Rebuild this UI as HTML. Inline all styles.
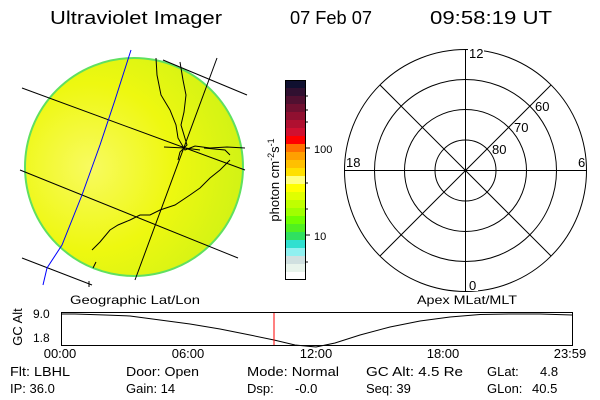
<!DOCTYPE html>
<html><head><style>
body{margin:0;background:#fff;}
svg{display:block;font-family:"Liberation Sans",sans-serif;}
</style></head><body>
<svg width="600" height="400" viewBox="0 0 600 400">
<defs>
<radialGradient id="g" cx="0.3" cy="0.5" r="0.85">
<stop offset="0" stop-color="#f8fa60"/>
<stop offset="0.45" stop-color="#eef810"/>
<stop offset="1" stop-color="#c4f018"/>
</radialGradient>
</defs>
<g font-size="18" fill="#000">
<text x="50" y="24" textLength="172" lengthAdjust="spacingAndGlyphs">Ultraviolet Imager</text>
<text x="290" y="24" textLength="82" lengthAdjust="spacingAndGlyphs">07 Feb 07</text>
<text x="430" y="24" textLength="122" lengthAdjust="spacingAndGlyphs">09:58:19 UT</text>
</g>
<circle cx="134" cy="167" r="109" fill="url(#g)" stroke="#60e060" stroke-width="2"/>
<g fill="none" stroke="#000" stroke-width="1">
<line x1="22" y1="88" x2="245" y2="170"/>
<line x1="20" y1="170" x2="238" y2="258"/>
<line x1="163" y1="60" x2="247" y2="95"/>
<line x1="22" y1="258" x2="92" y2="285"/>
<line x1="217" y1="58" x2="135" y2="280"/>
<polyline points="156,58 157,75 161,95 170,110 176,125 178,138 185,150 195,146 210,148 227,147 245,148"/>
<polyline points="180,62 183,80 186,95 184,112 181,125 187,145 180,152 178,160"/>
<polyline points="164,147 185,148 200,150"/>
<polyline points="204,148 225,150 230,155"/>
<polyline points="230,160 220,170 210,178 200,188 190,195 175,205 160,210 150,215 140,215 130,220 118,225 110,230 100,242 92,250"/>
<polyline points="96,262 93,268"/>
<line x1="89" y1="281" x2="89" y2="287"/>
</g>
<polyline fill="none" stroke="#0000ff" stroke-width="1" points="131,50 115,100 100,145 82,195 62,245 47,268 43,285"/>
<g>
<rect x="285" y="80" width="21" height="8" fill="#101030"/>
<rect x="285" y="88" width="21" height="8" fill="#301030"/>
<rect x="285" y="96" width="21" height="8" fill="#501030"/>
<rect x="285" y="104" width="21" height="8" fill="#701030"/>
<rect x="285" y="112" width="21" height="8" fill="#901030"/>
<rect x="285" y="120" width="21" height="8" fill="#b01030"/>
<rect x="285" y="128" width="21" height="8" fill="#d01030"/>
<rect x="285" y="136" width="21" height="8" fill="#ff0000"/>
<rect x="285" y="144" width="21" height="8" fill="#ff7000"/>
<rect x="285" y="152" width="21" height="8" fill="#ffa000"/>
<rect x="285" y="160" width="21" height="8" fill="#ffc000"/>
<rect x="285" y="168" width="21" height="8" fill="#ffe000"/>
<rect x="285" y="176" width="21" height="8" fill="#ffff80"/>
<rect x="285" y="184" width="21" height="8" fill="#ffff00"/>
<rect x="285" y="192" width="21" height="8" fill="#e0ff00"/>
<rect x="285" y="200" width="21" height="8" fill="#c0ff00"/>
<rect x="285" y="208" width="21" height="8" fill="#a0ff00"/>
<rect x="285" y="216" width="21" height="8" fill="#70ff00"/>
<rect x="285" y="224" width="21" height="8" fill="#50f020"/>
<rect x="285" y="232" width="21" height="8" fill="#30e060"/>
<rect x="285" y="240" width="21" height="8" fill="#30e0d0"/>
<rect x="285" y="248" width="21" height="8" fill="#90f0f0"/>
<rect x="285" y="256" width="21" height="8" fill="#d0e0e0"/>
<rect x="285" y="264" width="21" height="8" fill="#e8f4ec"/>
<rect x="285" y="272" width="21" height="8" fill="#ffffff"/>
<rect x="285.5" y="80.5" width="20" height="199" fill="none" stroke="#000"/>
<g stroke="#000"><line x1="306" y1="148" x2="310" y2="148"/><line x1="306" y1="235" x2="310" y2="235"/>
<line x1="306" y1="96" x2="308" y2="96"/><line x1="306" y1="110" x2="308" y2="110"/><line x1="306" y1="122" x2="308" y2="122"/>
<line x1="306" y1="183" x2="308" y2="183"/><line x1="306" y1="209" x2="308" y2="209"/><line x1="306" y1="262" x2="308" y2="262"/></g>
<text x="314" y="153" font-size="11">100</text>
<text x="314" y="240" font-size="11">10</text>
<text transform="translate(279,180) rotate(-90)" text-anchor="middle" font-size="13">photon cm<tspan font-size="9" dy="-5">-2</tspan><tspan dy="5">s</tspan><tspan font-size="9" dy="-5">-1</tspan></text>
</g>
<g fill="none" stroke="#000" stroke-width="1">
<circle cx="465.5" cy="170.5" r="30.5"/>
<circle cx="465.5" cy="170.5" r="61"/>
<circle cx="465.5" cy="170.5" r="91"/>
<circle cx="465.5" cy="170.5" r="121"/>
<line x1="344" y1="170.5" x2="587" y2="170.5"/>
<line x1="465.5" y1="49" x2="465.5" y2="292"/>
<line x1="380" y1="85" x2="551" y2="256"/>
<line x1="551" y1="85" x2="380" y2="256"/>
</g>
<g font-size="13" fill="#000">
<rect x="468" y="45" width="16" height="14" fill="#fff"/>
<text x="469" y="58">12</text>
<rect x="468" y="277" width="10" height="14" fill="#fff"/>
<text x="469" y="290">0</text>
<text x="346" y="167">18</text>
<text x="578" y="167">6</text>
<text x="535" y="111">60</text>
<text x="514" y="132">70</text>
<text x="492" y="154">80</text>
</g>
<g font-size="12" fill="#000">
<text x="70" y="304" textLength="130" lengthAdjust="spacingAndGlyphs">Geographic Lat/Lon</text>
<text x="417" y="304" textLength="100" lengthAdjust="spacingAndGlyphs">Apex MLat/MLT</text>
<text x="33" y="318">9.0</text>
<text x="33" y="342">1.8</text>
<text transform="translate(22,327) rotate(-90)" text-anchor="middle" font-size="13">GC Alt</text>
</g>
<rect x="61.5" y="312.5" width="511" height="33" fill="none" stroke="#000"/>
<polyline fill="none" stroke="#000" points="62,314 75,314 105,315 130,316 160,320 190,324 220,329 250,335 274,340 295,345 316,347 335,343 360,335 390,327 420,321 450,317 480,314.5 510,314 540,314 572,315"/>
<line x1="274" y1="313" x2="274" y2="345" stroke="#ff0000"/>
<g font-size="13" fill="#000" text-anchor="middle">
<text x="60" y="358">00:00</text>
<text x="188" y="358">06:00</text>
<text x="316" y="358">12:00</text>
<text x="443" y="358">18:00</text>
<text x="570" y="358">23:59</text>
</g>
<g font-size="13" fill="#000">
<text x="10" y="376" textLength="60" lengthAdjust="spacingAndGlyphs">Flt: LBHL</text>
<text x="126" y="376" textLength="73" lengthAdjust="spacingAndGlyphs">Door: Open</text>
<text x="247" y="376" textLength="92" lengthAdjust="spacingAndGlyphs">Mode: Normal</text>
<text x="366" y="376" textLength="97" lengthAdjust="spacingAndGlyphs">GC Alt: 4.5 Re</text>
<text x="487" y="376">GLat:</text><text x="540" y="376">4.8</text>
<text x="10" y="393">IP: 36.0</text>
<text x="126" y="393">Gain: 14</text>
<text x="247" y="393">Dsp:</text><text x="295" y="393">-0.0</text>
<text x="366" y="393">Seq: 39</text>
<text x="487" y="393">GLon:</text><text x="532" y="393">40.5</text>
</g>
</svg>
</body></html>
